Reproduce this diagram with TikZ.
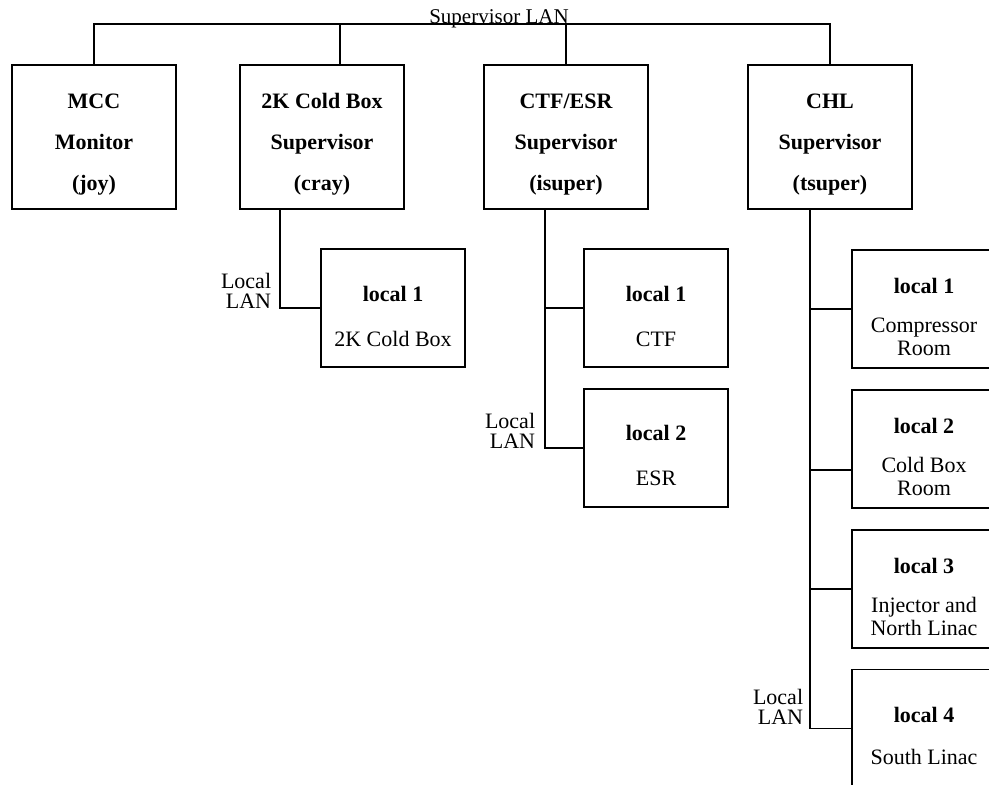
\documentclass[tikz,border=0pt]{standalone}
\usepackage{fontspec}
\setmainfont{Liberation Serif}
\usepackage{tikz}
\usetikzlibrary{positioning,calc}

\newcommand{\suplead}{\rule{0pt}{14.6pt}}
\newcommand{\loclead}{\rule{0pt}{15.6pt}}

\begin{document}
\begin{tikzpicture}[
    x=0.5pt, y=-0.5pt,
    line width=0.9pt,
    supbox/.style={rectangle, draw, line width=0.9pt,
                   minimum width=82pt, minimum height=72pt,
                   align=center, font=\bfseries\fontsize{11}{20.5}\selectfont},
    locbox/.style={rectangle, draw, line width=0.9pt,
                   minimum width=72pt, minimum height=59pt,
                   align=center, font=\fontsize{11}{11.5}\selectfont},
    lanlbl/.style={anchor=east, inner sep=0pt, align=right,
                   font=\fontsize{11}{10}\selectfont},
    wire/.style={line width=0.9pt},
]
\clip (0,0) rectangle (989,784);

%% ─── Supervisors ─────────────────────────────────────────────────────────────
\node[supbox] (mcc)  at (94,137)  {\suplead MCC\\Monitor\\(joy)};
\node[supbox] (twok) at (322,137) {\suplead 2K Cold Box\\Supervisor\\(cray)};
\node[supbox] (ctf)  at (566,137) {\suplead CTF/ESR\\Supervisor\\(isuper)};
\node[supbox] (chl)  at (830,137) {\suplead CHL\\Supervisor\\(tsuper)};

%% ─── Supervisor LAN ──────────────────────────────────────────────────────────
\coordinate (lanR)    at (830,24);
\coordinate (twoktap) at (340,24);
\node[anchor=base, inner sep=0pt, font=\fontsize{10.5}{12}\selectfont]
     (lanlabel) at (499,23) {Supervisor LAN};

%% ─── 2K Cold Box locals ──────────────────────────────────────────────────────
\node[locbox] (tk1) at (393,308) {\loclead\textbf{local 1}\\[11pt]2K Cold Box};
\node[lanlbl] (tklan) at (272,291) {Local\\LAN};
\coordinate (twokbus) at (280,0);

%% ─── CTF/ESR locals ──────────────────────────────────────────────────────────
\node[locbox] (ctf1) at (656,308) {\loclead\textbf{local 1}\\[11pt]CTF};
\node[locbox, below=10pt of ctf1] (ctf2) {\loclead\textbf{local 2}\\[11pt]ESR};
\node[lanlbl] (ctflan) at (536,431) {Local\\LAN};
\coordinate (ctfbus) at (545,0);

%% ─── CHL locals ──────────────────────────────────────────────────────────────
\node[locbox] (chl1) at (924,309)
    {\loclead\textbf{local 1}\\[8pt]Compressor\\Room};
\node[locbox, below=10pt of chl1] (chl2)
    {\loclead\textbf{local 2}\\[8pt]Cold Box\\Room};
\node[locbox, below=10pt of chl2] (chl3)
    {\loclead\textbf{local 3}\\[8pt]Injector and\\North Linac};
\node[locbox, below=10pt of chl3] (chl4)
    {\loclead\textbf{local 4}\\[9.5pt]South Linac};
\node[lanlbl] (chllan) at (804,707) {Local\\LAN};
\coordinate (chlbus) at (810,0);
\path (chl2.west) ++(0,21) coordinate (chl2tap);

%% ─── Supervisor LAN wiring ───────────────────────────────────────────────────
\draw[wire] (mcc.north) |- (lanR) -- (chl.north);
\draw[wire] (ctf.north) -- (ctf.north |- lanR);
\draw[wire] (twok.north -| twoktap) -- (twoktap);

%% ─── Local LAN wiring ────────────────────────────────────────────────────────
\draw[wire] (twok.south -| twokbus) |- (tk1.west);

\draw[wire] (ctf.south -| ctfbus) |- (ctf2.west);
\draw[wire] (ctfbus |- ctf1.west) -- (ctf1.west);

\draw[wire] (chl.south -| chlbus) |- (chl4.west);
\draw[wire] (chlbus |- chl1.west) -- (chl1.west);
\draw[wire] (chlbus |- chl2tap)   -- (chl2tap);
\draw[wire] (chlbus |- chl3.west) -- (chl3.west);

\end{tikzpicture}
\end{document}
